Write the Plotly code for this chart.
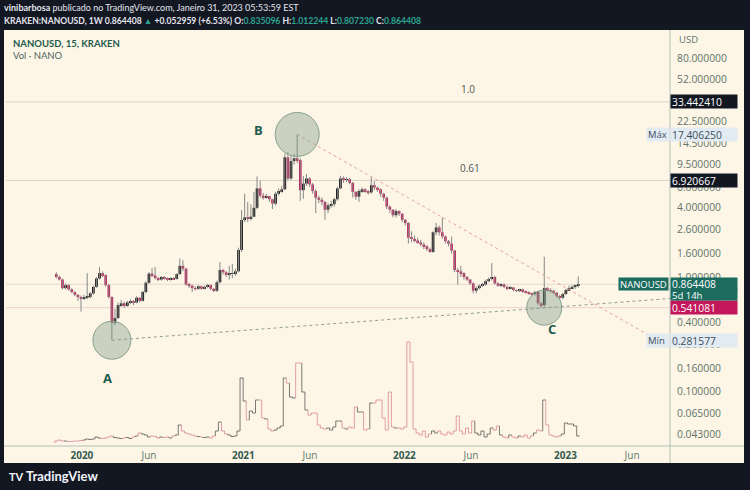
import numpy as np
import pandas as pd
import plotly.graph_objects as go

# weekly candles, KRAKEN:NANOUSD
first_open = 1.06
closes = [1.00, 0.95, 0.80, 0.85, 0.78, 0.74, 0.70, 0.67, 0.65, 0.66,
          0.67, 0.72, 0.82, 0.97, 1.08, 1.04, 0.85, 0.67, 0.40, 0.44,
          0.57, 0.59, 0.56, 0.60, 0.61, 0.60, 0.66, 0.62, 0.74, 0.89,
          1.07, 1.03, 0.98, 0.95, 1.00, 0.97, 0.95, 0.98, 0.96, 1.06,
          1.25, 1.18, 0.86, 0.84, 0.80, 0.79, 0.83, 0.79, 0.82, 0.85,
          0.79, 0.76, 0.90, 1.15, 1.10, 1.06, 1.07, 1.08, 1.12, 1.72,
          3.13, 3.30, 3.25, 3.35, 4.00, 5.90, 5.10, 4.95, 5.05, 4.75,
          4.35, 5.30, 5.60, 5.80, 11.0, 7.20, 10.2, 10.8, 10.4, 5.70,
          6.50, 7.20, 6.40, 5.60, 4.90, 4.70, 4.50, 3.85, 4.20, 4.30,
          4.75, 5.90, 7.20, 7.00, 7.10, 6.60, 5.50, 5.00, 5.60, 5.80,
          5.60, 5.45, 6.30, 6.00, 5.80, 5.30, 4.90, 4.10, 3.85, 3.45,
          3.75, 3.55, 3.15, 2.95, 2.20, 2.15, 2.08, 2.00, 1.92, 1.85,
          1.75, 1.65, 2.45, 2.70, 2.45, 2.25, 2.05, 1.95, 1.70, 1.15,
          1.12, 1.08, 1.00, 0.95, 0.88, 0.76, 0.80, 0.84, 0.86, 0.92,
          0.96, 1.00, 0.88, 0.84, 0.86, 0.82, 0.79, 0.81, 0.77, 0.76,
          0.78, 0.75, 0.74, 0.72, 0.71, 0.74, 0.59, 0.57, 0.80, 0.77,
          0.76, 0.73, 0.68, 0.66, 0.71, 0.77, 0.80, 0.82, 0.835096, 0.864408]
highs = [1.10, 1.03, 0.97, 0.88, 0.87, 0.80, 0.75, 0.71, 0.69, 0.70,
         1.08, 0.74, 0.84, 1.00, 1.22, 1.12, 1.05, 0.87, 0.68, 0.53,
         0.60, 0.63, 0.61, 0.62, 0.64, 0.63, 0.68, 0.67, 0.76, 0.92,
         1.10, 1.20, 1.22, 1.00, 1.02, 1.02, 0.99, 1.00, 1.00, 1.08,
         1.45, 1.40, 1.20, 0.89, 0.86, 0.83, 0.85, 0.84, 0.84, 0.87,
         0.86, 0.80, 0.93, 1.35, 1.18, 1.13, 1.25, 1.30, 1.18, 1.80,
         3.83, 5.30, 4.50, 4.30, 5.50, 7.50, 6.90, 5.40, 5.30, 5.10,
         4.80, 5.50, 5.90, 6.20, 11.8, 12.2, 11.5, 11.8, 17.40625, 10.8,
         7.60, 7.90, 7.40, 6.60, 5.80, 5.10, 4.90, 4.60, 4.40, 4.60,
         4.90, 6.10, 7.60, 7.50, 7.40, 7.30, 6.70, 5.60, 5.80, 6.00,
         5.90, 5.70, 7.40, 6.80, 6.10, 5.90, 5.40, 5.00, 4.20, 3.90,
         3.90, 3.80, 3.60, 3.20, 3.00, 2.50, 2.30, 2.20, 2.10, 2.00,
         1.90, 1.80, 2.50, 2.95, 2.80, 3.30, 2.30, 2.10, 2.25, 1.72,
         1.20, 1.25, 1.10, 1.02, 0.96, 0.90, 0.83, 0.86, 0.89, 0.95,
         0.99, 1.32, 1.02, 0.90, 0.88, 0.88, 0.84, 0.83, 0.82, 0.78,
         0.79, 0.79, 0.76, 0.75, 0.73, 0.76, 0.76, 0.61, 1.50, 0.82,
         0.80, 0.77, 0.74, 0.70, 0.73, 0.79, 0.84, 0.85, 0.86, 1.012244]
lows = [0.97, 0.93, 0.78, 0.78, 0.76, 0.72, 0.68, 0.62, 0.50, 0.63,
        0.64, 0.65, 0.70, 0.80, 0.95, 1.00, 0.82, 0.65, 0.281577, 0.38,
        0.43, 0.55, 0.54, 0.55, 0.58, 0.57, 0.59, 0.60, 0.61, 0.72,
        0.87, 1.00, 0.95, 0.92, 0.93, 0.95, 0.92, 0.93, 0.94, 0.95,
        1.04, 1.12, 0.84, 0.80, 0.74, 0.76, 0.77, 0.77, 0.78, 0.80,
        0.77, 0.74, 0.74, 0.88, 1.05, 1.00, 0.95, 0.98, 1.02, 1.10,
        1.65, 3.00, 3.00, 3.10, 3.30, 3.90, 4.90, 4.70, 4.80, 4.50,
        3.90, 4.20, 5.10, 5.40, 5.70, 6.90, 7.00, 9.50, 9.80, 4.60,
        4.80, 6.20, 6.10, 5.30, 3.60, 4.40, 4.20, 3.15, 3.60, 4.00,
        4.10, 4.60, 5.80, 6.60, 6.70, 6.40, 4.90, 4.70, 4.50, 5.40,
        5.40, 5.20, 5.30, 5.70, 5.50, 5.00, 4.60, 3.90, 3.60, 3.30,
        3.30, 3.40, 3.00, 2.80, 1.95, 2.00, 2.00, 1.95, 1.85, 1.75,
        1.68, 1.62, 1.63, 2.30, 2.30, 2.15, 1.95, 1.85, 1.60, 1.10,
        0.86, 1.00, 0.95, 0.92, 0.85, 0.72, 0.72, 0.78, 0.82, 0.84,
        0.90, 0.93, 0.86, 0.82, 0.82, 0.80, 0.77, 0.78, 0.75, 0.74,
        0.74, 0.73, 0.72, 0.70, 0.69, 0.69, 0.57, 0.54, 0.55, 0.75,
        0.73, 0.71, 0.66, 0.64, 0.64, 0.70, 0.76, 0.79, 0.79, 0.807230]
# volume (relative units)
volumes = [2, 3, 2, 2, 1.5, 1.5, 2, 2, 2.5, 3,
           4, 3.5, 4, 6, 5, 4.5, 5, 6, 7, 5.5,
           5, 4.5, 5, 5.5, 4.5, 6, 7, 10, 9, 8,
           6, 7, 6.5, 5, 6, 5.5, 6, 5, 7, 8,
           18, 12, 10, 9, 8, 7, 6.5, 6, 5.5, 6,
           5, 7, 12, 21, 12, 9, 8, 6.5, 7, 12,
           65, 42, 23, 32, 30, 43, 43, 25, 24, 14,
           12, 13, 15, 17, 65, 60, 46, 45, 80, 80,
           51, 33, 28, 30, 30, 18, 15, 14, 15, 13,
           16, 22, 22, 15, 14, 16, 15, 36, 31, 31,
           13, 14, 40, 40, 43, 43, 25, 13, 51, 16,
           15, 15, 14, 16, 101, 81, 14, 10, 8, 12,
           6, 9, 12, 10, 12, 9, 8, 11, 9, 12,
           27, 12, 9, 15, 10, 22, 10, 8, 12, 6,
           9, 15, 13, 17, 8, 6, 5, 8, 6, 5,
           7, 6, 8, 5, 7, 10, 13, 12, 43, 18,
           8, 7, 6, 7, 9, 20, 19, 19, 17, 7]

dates = pd.date_range('2019-11-04', periods=len(closes), freq='7D')
opens = [first_open] + closes[:-1]

price_ticks = [80, 52, 34, 22.5, 14.5, 9.5, 6.0, 4.0, 2.6, 1.6, 1.0,
               0.65, 0.4, 0.26, 0.16, 0.1, 0.065, 0.043]
time_ticks = ['2020-01-01', '2020-06-01', '2021-01-01', '2021-06-01',
              '2022-01-01', '2022-06-01', '2023-01-01', '2023-06-01']
time_labels = ['2020', 'Jun', '2021', 'Jun', '2022', 'Jun', '2023', 'Jun']

last_price = 0.864408
level_1 = 33.442410
level_061 = 6.920667
alert_price = 0.541081
max_price = 17.406250
min_price = 0.281577

# axis ranges
y_lo, y_hi = 0.03381, 135.6
x_lo, x_hi = pd.Timestamp('2019-07-13'), pd.Timestamp('2023-08-26')

# pixel -> paper helpers (plot area: x 6..670, y 32..446)
L, R, T, B = 6, 670, 32, 446
def px(x):
    return (x - L) / (R - L)
def py(y):
    return (B - y) / (B - T)
px_per_ln = (B - T) / np.log(y_hi / y_lo)
time_per_px = (x_hi - x_lo) / (R - L)

UP, DOWN = '#0d0d0d', '#c41f5c'
AXIS_TXT = '#5f746a'
BG_DARK = '#131722'
CREAM = '#fdf6e7'
FONT = 'Open Sans'
NARROW = 'Lato'

fig = go.Figure()

# volume as stepped outline (black / pink)
half = pd.Timedelta(days=3.5)
vx = {True: [], False: []}
vy = {True: [], False: []}
prev = 0
for d, v, o, c in zip(dates, volumes, opens, closes):
    u = c >= o
    vx[u] += [d - half, d - half, d + half, None]
    vy[u] += [prev, v, v, None]
    prev = v
fig.add_trace(go.Scatter(x=vx[True], y=vy[True], mode='lines', yaxis='y2',
                         line=dict(color='rgba(70,70,70,0.7)', width=1), hoverinfo='skip'))
fig.add_trace(go.Scatter(x=vx[False], y=vy[False], mode='lines', yaxis='y2',
                         line=dict(color='rgba(214,120,140,0.7)', width=1), hoverinfo='skip'))

# wicks
wx, wy = [], []
for d, h, l in zip(dates, highs, lows):
    wx += [d, d, None]
    wy += [l, h, None]
fig.add_trace(go.Scatter(x=wx, y=wy, mode='lines', line=dict(color='#858886', width=1),
                         hoverinfo='skip'))

# candle bodies
body_w = pd.Timedelta(days=6.0).total_seconds() * 1000
for is_up, col in [(True, UP), (False, DOWN)]:
    sel = [i for i in range(len(closes)) if (closes[i] >= opens[i]) == is_up]
    fig.add_trace(go.Bar(
        x=[dates[i] for i in sel],
        base=[min(opens[i], closes[i]) for i in sel],
        y=[abs(closes[i] - opens[i]) for i in sel],
        width=body_w, marker=dict(color=col, line=dict(width=0)), hoverinfo='skip'))

shapes = []
# cream chart panel
shapes.append(dict(type='rect', xref='paper', yref='paper', x0=px(4), x1=px(744),
                   y0=py(463), y1=py(30), fillcolor=CREAM, line=dict(width=0), layer='below'))
# price / time axis separators
shapes.append(dict(type='line', xref='paper', yref='paper', x0=px(670), x1=px(670),
                   y0=py(463), y1=py(30), line=dict(color='#b2c1b7', width=1)))
shapes.append(dict(type='line', xref='paper', yref='paper', x0=px(4), x1=px(744),
                   y0=py(446), y1=py(446), line=dict(color='#b2c1b7', width=1)))
# horizontal levels
for val, col in [(level_1, '#d9d4c8'), (level_061, '#d9d4c8'),
                 (last_price, '#e6d8cc'), (alert_price, '#ecd2cf')]:
    shapes.append(dict(type='line', xref='paper', yref='y', x0=0, x1=1, y0=val, y1=val,
                       line=dict(color=col, width=1), layer='below'))
# trend lines
shapes.append(dict(type='line', xref='x', yref='y', x0=dates[18], y0=min_price,
                   x1=x_hi, y1=0.65, line=dict(color='#8f9d94', width=1, dash='dot')))
shapes.append(dict(type='line', xref='x', yref='y', x0=dates[78], y0=max_price,
                   x1='2023-07-12', y1=0.307, line=dict(color='#e3a39d', width=1, dash='dot')))
# circles A, B, C
for d, val, r in [(dates[18], min_price, 19), (dates[78], max_price, 22), (dates[158], alert_price, 17.5)]:
    k = np.exp(r / px_per_ln)
    shapes.append(dict(type='circle', xref='x', yref='y',
                       x0=d - r * time_per_px, x1=d + r * time_per_px, y0=val / k, y1=val * k,
                       fillcolor='rgba(120,150,130,0.38)', line=dict(color='#86a090', width=1)))

ann = []
def note(text, x, y, size=11, color='#222', family=FONT, xanchor='left', yanchor='middle'):
    ann.append(dict(text=text, x=x, y=y, xref='paper', yref='paper', showarrow=False,
                    xanchor=xanchor, yanchor=yanchor, font=dict(family=family, size=size, color=color)))

teal = '#2ba592'
note("<b>vinibarbosa</b> publicado no TradingView.com, Janeiro 31, 2023 05:53:59 EST",
     px(2), py(8), size=9.0, color='#e3e6ee', family=NARROW)
note("<b>KRAKEN:NANOUSD, 1W 0.864408 <span style='color:%s'>▲</span> +0.052959 (+6.53%%) "
     "O:<span style='color:%s'>0.835096</span> H:<span style='color:%s'>1.012244</span> "
     "L:<span style='color:%s'>0.807230</span> C:<span style='color:%s'>0.864408</span></b>"
     % (teal, teal, teal, teal, teal), px(2), py(21), size=8.6, color='#e3e6ee', family=NARROW)
note("<b>NANOUSD, 15, KRAKEN</b>", px(11), py(43), size=9.5, color='#1d5b4e', family=NARROW)
note("Vol · NANO", px(11), py(55), size=9.5, color='#4d675d', family=NARROW)
note("<b>TV</b>", px(7), py(476), size=11, color='#f0f3fa', family=NARROW)
note("<b>TradingView</b>", px(24), py(476), size=13, color='#f0f3fa', family=NARROW)
note("USD", px(677), py(40), size=9.5, color=AXIS_TXT)
note("1.0", px(468), py(89), size=10, color='#4d5752', xanchor='center')
note("0.61", px(470), py(168), size=10, color='#4d5752', xanchor='center')
note("<b>A</b>", px(107), py(378), size=13, color='#1d5b4e', xanchor='center')
note("<b>B</b>", px(258), py(130), size=13, color='#1d5b4e', xanchor='center')
note("<b>C</b>", px(552), py(329), size=13, color='#1d5b4e', xanchor='center')

def price_box(val, text, bg, fg='white', x=670, xanchor='left', width=64, height=11,
              size=10.3, yshift=0):
    ann.append(dict(text=text, x=px(x), y=np.log10(val), xref='paper', yref='y',
                    showarrow=False, xanchor=xanchor, yanchor='middle', align='left',
                    bgcolor=bg, borderpad=1, width=width, height=height, yshift=yshift,
                    font=dict(family=FONT, size=size, color=fg)))

price_box(level_1, "33.442410", BG_DARK)
price_box(level_061, "6.920667", BG_DARK)
price_box(alert_price, "0.541081", '#c2185b')
price_box(last_price, "5d 14h", '#1b6b5e', height=8, yshift=-11, size=9.5)
price_box(last_price, "0.864408", '#1b6b5e', height=10)
price_box(last_price, "NANOUSD", '#1b6b5e', x=669, xanchor='right', width=47, height=10, size=9.5)
price_box(max_price, "17.406250", '#e2eaf2', fg='#3d4f5e')
price_box(max_price, "Máx", '#e2eaf2', fg='#3d4f5e', x=670, xanchor='right', width=20, size=9.5)
price_box(min_price, "0.281577", '#e2eaf2', fg='#3d4f5e')
price_box(min_price, "Mín", '#e2eaf2', fg='#3d4f5e', x=670, xanchor='right', width=20, size=9.5)

tick_text = []
for lab in time_labels:
    if lab.isdigit():
        tick_text.append("<b><span style='color:#355a4e'>%s</span></b>" % lab)
    else:
        tick_text.append(lab)

fig.update_layout(
    width=750, height=490,
    margin=dict(l=L, r=750 - R, t=T, b=490 - B),
    paper_bgcolor=BG_DARK, plot_bgcolor='rgba(0,0,0,0)',
    showlegend=False, barmode='overlay',
    font=dict(family=FONT, size=11, color=AXIS_TXT),
    xaxis=dict(type='date', range=[x_lo, x_hi], rangeslider=dict(visible=False),
               showgrid=False, zeroline=False, showline=False, ticks='',
               tickvals=time_ticks, ticktext=tick_text, tickfont=dict(size=10, color='#5f7a6e'),
               ticklabelstandoff=2),
    yaxis=dict(type='log', side='right', range=[np.log10(y_lo), np.log10(y_hi)],
               showgrid=False, zeroline=False, showline=False, ticks='',
               tickvals=price_ticks, ticktext=['%.6f' % v for v in price_ticks],
               tickfont=dict(size=10.3, color=AXIS_TXT), ticklabelstandoff=6),
    yaxis2=dict(overlaying='y', range=[-3, 411], visible=False),
    shapes=shapes, annotations=ann,
)

fig.write_html("out.html", config={'displayModeBar': False},
               post_script="document.body.style.margin='0px';")
